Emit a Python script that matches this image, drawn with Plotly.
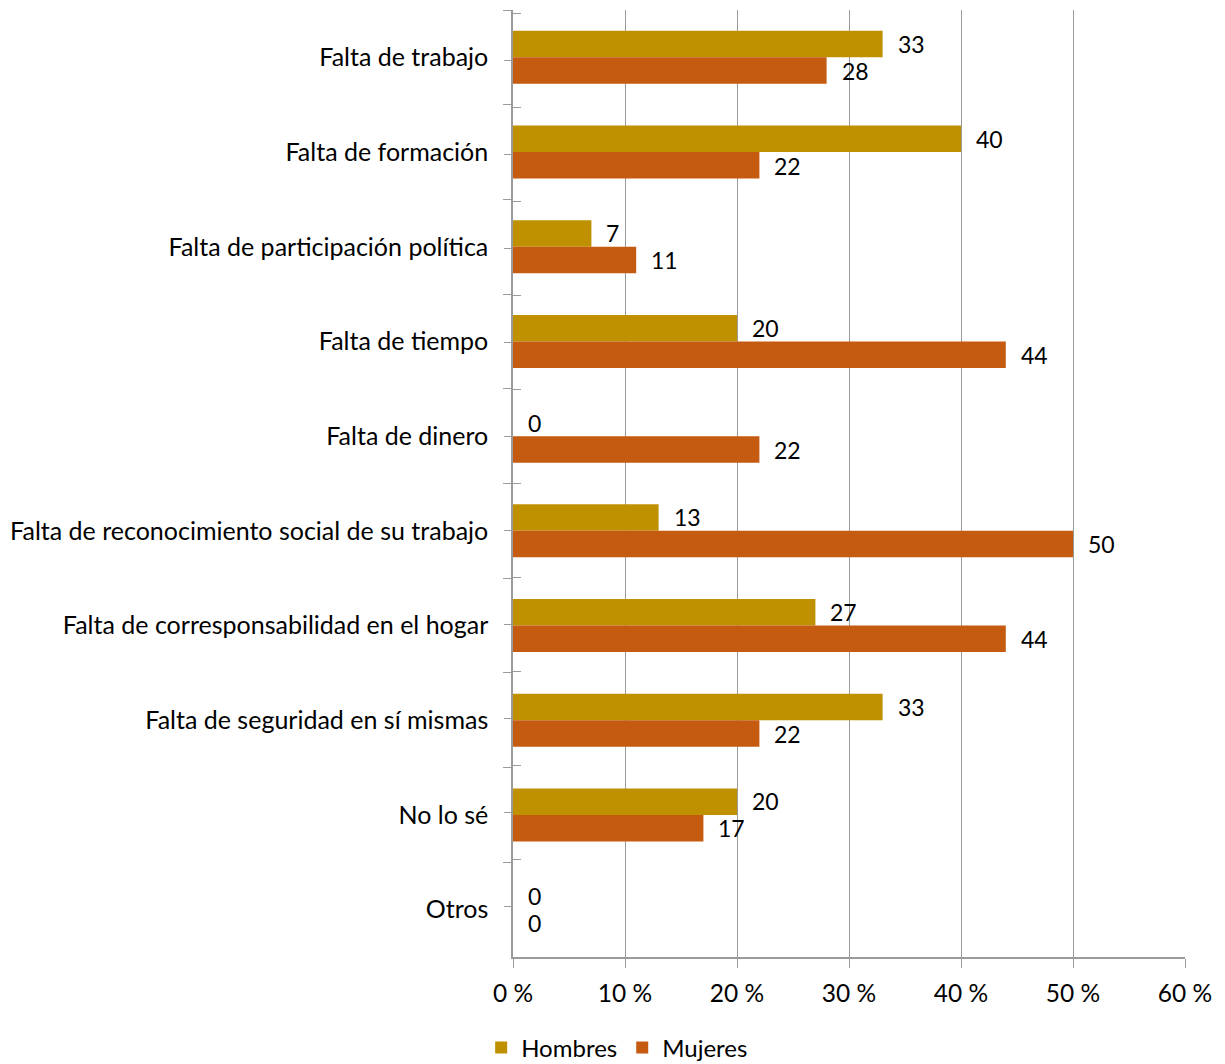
import plotly.graph_objects as go

categories = [
    "Falta de trabajo",
    "Falta de formación",
    "Falta de participación política",
    "Falta de tiempo",
    "Falta de dinero",
    "Falta de reconocimiento social de su trabajo",
    "Falta de corresponsabilidad en el hogar",
    "Falta de seguridad en sí mismas",
    "No lo sé",
    "Otros",
]
hombres = [33, 40, 7, 20, 0, 13, 27, 33, 20, 0]
mujeres = [28, 22, 11, 44, 22, 50, 44, 22, 17, 0]
x_ticks = [0, 10, 20, 30, 40, 50, 60]

GOLD = "#BF9000"
RUST = "#C55A11"
GRID = "#9A9A9A"
FONT = "Lato, 'Open Sans', sans-serif"

fig = go.Figure()
fig.add_trace(go.Bar(name="Hombres", y=categories, x=hombres, orientation="h",
                     marker=dict(color=GOLD, line=dict(width=0))))
fig.add_trace(go.Bar(name="Mujeres", y=categories, x=mujeres, orientation="h",
                     marker=dict(color=RUST, line=dict(width=0))))
# helper traces so the overlay axes know the categories (extra tick marks)
for ax in ("y2", "y3"):
    fig.add_trace(go.Scatter(y=categories, x=[0] * len(categories), yaxis=ax,
                             mode="markers", marker=dict(opacity=0, size=1),
                             showlegend=False, hoverinfo="skip"))

# value labels beside each bar end
annotations = []
for cat, h, m in zip(categories, hombres, mujeres):
    for val, dy in ((h, 13.5), (m, -13.5)):
        annotations.append(dict(x=val, y=cat, xref="x", yref="y", text=str(val),
                                showarrow=False, xanchor="left", yanchor="middle",
                                xshift=13, yshift=dy,
                                font=dict(family=FONT, size=23, color="#000000")))

overlay = dict(type="category", categoryorder="array", categoryarray=categories,
               overlaying="y", autorange="reversed", showline=False,
               showticklabels=False, showgrid=False, side="left", tickcolor=GRID)

fig.update_layout(
    width=1225, height=1064,
    margin=dict(l=513, r=40, t=10, b=107, autoexpand=False),
    paper_bgcolor="white", plot_bgcolor="white",
    barmode="group", bargap=0.44, bargroupgap=0,
    font=dict(family=FONT, size=24, color="#000000"),
    showlegend=True,
    legend=dict(orientation="h", x=0.155, xanchor="center", y=-0.096, yanchor="middle",
                font=dict(family=FONT, size=24, color="#000000"), traceorder="normal",
                itemwidth=30),
    annotations=annotations,
    xaxis=dict(range=[0, 60], tickvals=x_ticks, ticktext=[f"{v} %" for v in x_ticks],
               showgrid=True, gridcolor=GRID, gridwidth=1,
               showline=True, linecolor=GRID, linewidth=1.5,
               ticks="outside", ticklen=9, tickcolor=GRID, ticklabelstandoff=5,
               tickfont=dict(family=FONT, size=24.5), zeroline=False),
    yaxis=dict(type="category", categoryorder="array", categoryarray=categories,
               autorange="reversed", showline=True, linecolor=GRID, linewidth=1.5,
               ticks="outside", tickson="boundaries", ticklen=8, tickcolor=GRID,
               ticklabelstandoff=18, showgrid=False,
               tickfont=dict(family=FONT, size=25)),
    yaxis2=dict(overlay, ticks="inside", tickson="boundaries", ticklen=8),
    yaxis3=dict(overlay, ticks="outside", ticklen=8),
)

fig.write_html("out.html")
